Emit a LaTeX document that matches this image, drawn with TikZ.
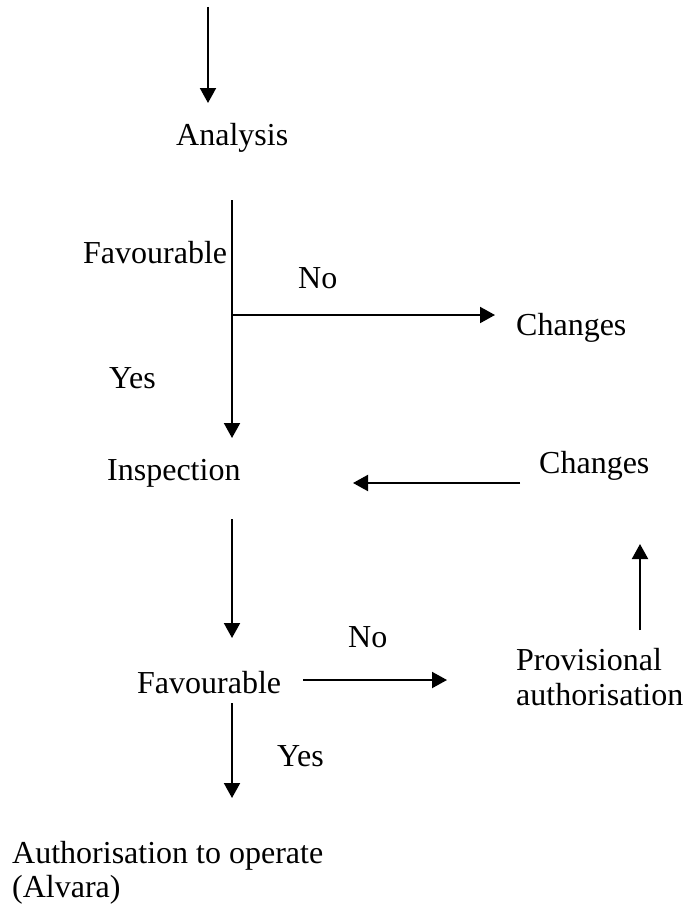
\documentclass[tikz,border=0pt]{standalone}
\usepackage{fontspec}
\setmainfont{Liberation Serif}
\usetikzlibrary{arrows.meta}
\tikzset{
  lbl/.style={anchor=base west, inner sep=0pt, font=\fontsize{32}{36}\selectfont},
  arr/.style={line width=2pt, -{Triangle[width=16pt,length=15pt]}},
  ln/.style={line width=2pt}
}
\begin{document}
\begin{tikzpicture}[x=1pt,y=-1pt]
\useasboundingbox (0,0) rectangle (683,907);
% texts
\node[lbl] (analysis) at (176,145) {Analysis};
\node[lbl] (fav1) at (83,263) {Favourable};
\node[lbl] (no1) at (298,288) {No};
\node[lbl] (ch1) at (516,335) {Changes};
\node[lbl] (yes1) at (109,388) {Yes};
\node[lbl] (insp) at (107,480) {Inspection};
\node[lbl] (ch2) at (539,473) {Changes};
\node[lbl] (no2) at (348,647) {No};
\node[lbl] (fav2) at (137,693) {Favourable};
\node[lbl] (prov1) at (516,670) {Provisional};
\node[lbl] (prov2) at (516,705) {authorisation};
\node[lbl] (yes2) at (277,766) {Yes};
\node[lbl] (auth1) at (12,863) {Authorisation to operate};
\node[lbl] (auth2) at (12,897) {(Alvara)};
% connector ends
\coordinate (c0) at (208,7);
\coordinate (c1) at (208,103);
\coordinate (c2) at (232,200);
\coordinate (c3) at (232,438);
\coordinate (c4) at (232,315);
\coordinate (c5) at (495,315);
\coordinate (c6) at (520,483);
\coordinate (c7) at (353,483);
\coordinate (c8) at (640,630);
\coordinate (c9) at (640,544);
\coordinate (c10) at (232,519);
\coordinate (c11) at (232,638);
\coordinate (c12) at (303,680);
\coordinate (c13) at (447,680);
\coordinate (c14) at (232,703);
\coordinate (c15) at (232,798);
% connectors
\draw[arr] (c0) -- (c1);
\draw[arr] (c2) -- (c3);
\draw[arr] (c4) -- (c5);
\draw[arr] (c6) -- (c7);
\draw[arr] (c8) -- (c9);
\draw[arr] (c10) -- (c11);
\draw[arr] (c12) -- (c13);
\draw[arr] (c14) -- (c15);
\end{tikzpicture}
\end{document}
